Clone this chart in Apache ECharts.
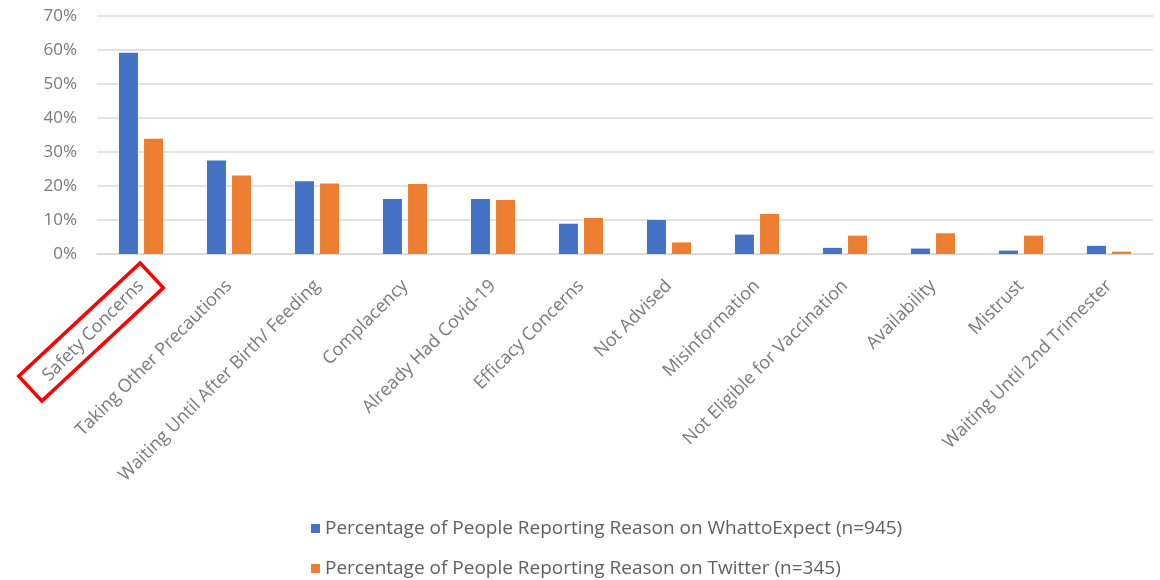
<!DOCTYPE html>
<html>
<head>
<meta charset="utf-8">
<script src="https://cdn.jsdelivr.net/npm/echarts@6/dist/echarts.min.js"></script>
<style>
  html, body { margin: 0; padding: 0; background: #fff; }
  #chart { width: 1160px; height: 580px; }
</style>
</head>
<body>
<div id="chart"></div>
<script>
// Reasons for COVID-19 vaccine hesitancy, share of people reporting each reason
const categories = [
  'Safety Concerns',
  'Taking Other Precautions',
  'Waiting Until After Birth/ Feeding',
  'Complacency',
  'Already Had Covid-19',
  'Efficacy Concerns',
  'Not Advised',
  'Misinformation',
  'Not Eligible for Vaccination',
  'Availability',
  'Mistrust',
  'Waiting Until 2nd Trimester'
];
const whatToExpect = [59.2, 27.5, 21.4, 16.2, 16.2, 8.9, 10.0, 5.7, 1.8, 1.6, 1.0, 2.4];
const twitter      = [33.9, 23.1, 20.7, 20.6, 15.9, 10.6, 3.4, 11.8, 5.4, 6.1, 5.4, 0.7];
const seriesNames = [
  'Percentage of People Reporting Reason on WhattoExpect (n=945)',
  'Percentage of People Reporting Reason on Twitter (n=345)'
];
const yTicks = [0, 10, 20, 30, 40, 50, 60, 70];

const FONT = '"Open Sans", Lato, sans-serif';
const LABEL_GREY = '#7a7a7a';
const chart = echarts.init(document.getElementById('chart'), null, { renderer: 'canvas' });

// one legend per row, stacked under the plot
const legendRow = (name, top) => ({
  orient: 'horizontal',
  left: 306,
  top: top,
  itemWidth: 9,
  itemHeight: 9,
  icon: 'rect',
  textStyle: { color: '#606060', fontSize: 19, fontFamily: FONT },
  data: [name]
});

chart.setOption({
  animation: false,
  textStyle: { fontFamily: FONT },
  color: ['#4472C4', '#ED7D31'],
  grid: { left: 97, right: 7, top: 16, bottom: 326, containLabel: false },
  legend: [legendRow(seriesNames[0], 514), legendRow(seriesNames[1], 554)],
  xAxis: {
    type: 'category',
    data: categories,
    axisLine: { lineStyle: { color: '#d9d9d9', width: 1.5 } },
    axisTick: { show: false },
    axisLabel: {
      rotate: 45,
      interval: 0,
      margin: 29,
      color: LABEL_GREY,
      fontSize: 18,
      fontFamily: FONT
    }
  },
  yAxis: {
    type: 'value',
    min: yTicks[0],
    max: yTicks[yTicks.length - 1],
    interval: 10,
    axisLine: { show: false },
    axisTick: { show: false },
    splitLine: { lineStyle: { color: '#d9d9d9', width: 1.5 } },
    axisLabel: {
      margin: 20,
      color: LABEL_GREY,
      fontSize: 17,
      fontFamily: FONT,
      formatter: v => v + '%'
    }
  },
  series: [
    { name: seriesNames[0], type: 'bar', data: whatToExpect, barWidth: 19, barGap: '32%' },
    { name: seriesNames[1], type: 'bar', data: twitter, barWidth: 19, barGap: '32%' }
  ]
});

// Red highlight box drawn around the first category label
const cx = chart.convertToPixel({ xAxisIndex: 0 }, categories[0]);
const cy = chart.convertToPixel({ yAxisIndex: 0 }, 0);
chart.setOption({
  graphic: [{
    type: 'rect',
    x: cx - 50,
    y: cy + 78,
    rotation: 0.75,
    shape: { x: -83, y: -17, width: 166, height: 34 },
    style: { fill: 'none', stroke: '#ff0000', lineWidth: 3.5 },
    silent: true
  }]
});
</script>
</body>
</html>
